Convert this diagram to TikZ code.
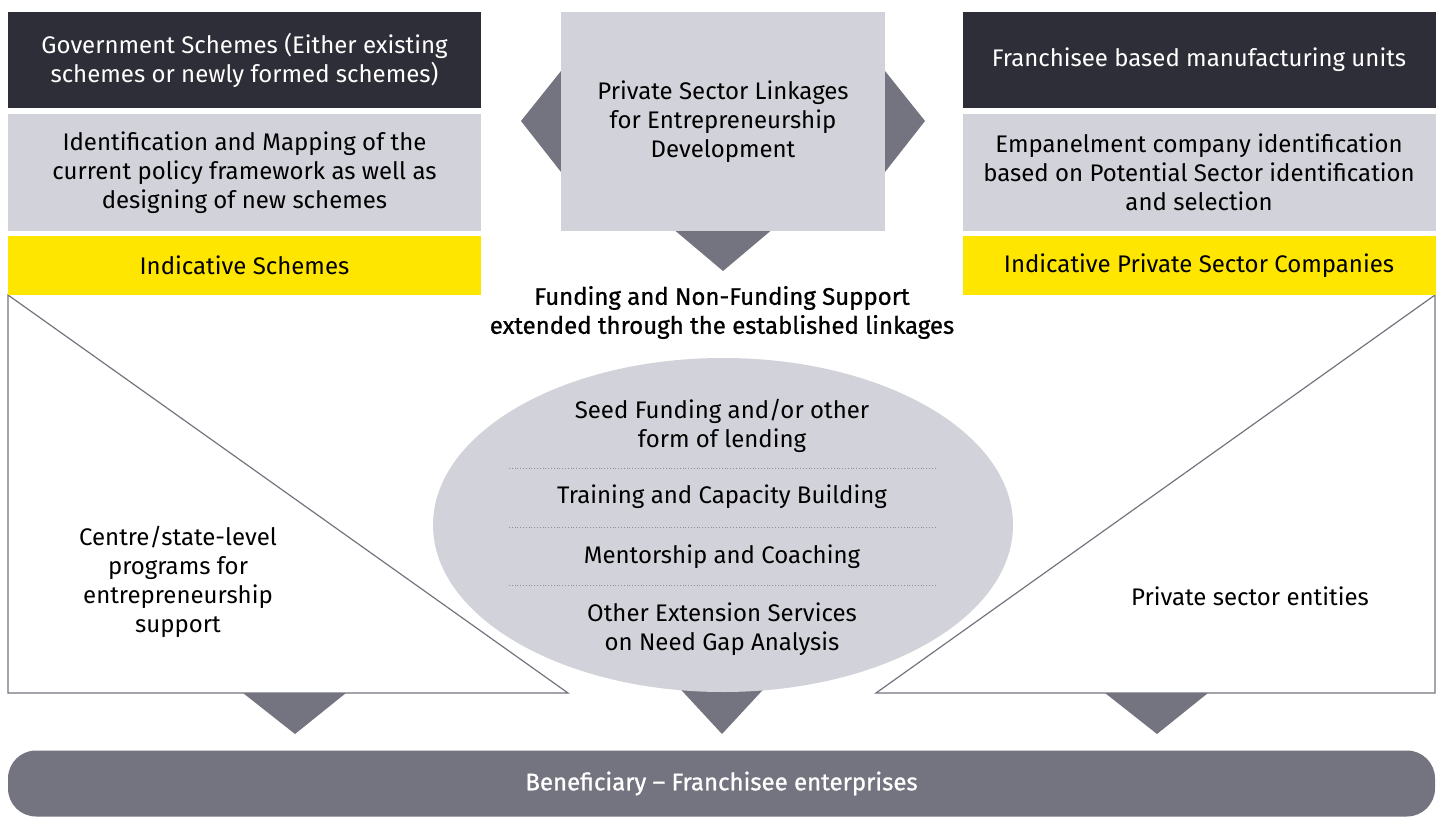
\documentclass[tikz,border=0pt]{standalone}
\usepackage{fontspec}
\setmainfont{Fira Sans}
\newfontfamily\medfont{Fira Sans}[FakeBold=0.9]
\usetikzlibrary{positioning,shapes.geometric}
\definecolor{eydark}{HTML}{2E2E38}
\definecolor{eylight}{HTML}{D2D2DA}
\definecolor{eyyellow}{HTML}{FFE600}
\definecolor{eygrey}{HTML}{747480}
\begin{document}
\begin{tikzpicture}[x=0.5pt,y=-0.5pt,
    txt/.style={align=center,inner sep=0pt,font=\fontsize{12}{14.5}\selectfont},
    panel/.style={txt,minimum width=236.5pt},
    darkpanel/.style={panel,fill=eydark,text=white,minimum height=48pt},
    lightpanel/.style={panel,fill=eylight,minimum height=58.5pt},
    yellowpanel/.style={panel,fill=eyyellow,minimum height=29.5pt},
    pointer/.style={fill=eygrey},
    wedge/.style={draw=eygrey,line width=0.6pt,fill=white},
    divider/.style={densely dotted,draw=eygrey!80,line width=0.4pt}]
  \useasboundingbox (0,0) rectangle (1441,818);
  \fill[white] (0,0) rectangle (1441,818);

  \draw[wedge] (8,295) -- (8,693) -- (568,693) -- cycle;
  \draw[wedge] (1435,295) -- (1435,693) -- (876,693) -- cycle;

  \node[darkpanel] (gov) at (244.5,60) {Government Schemes (Either existing\\schemes or newly formed schemes)};
  \node[lightpanel] (mapping) at (244.5,172.5) {Identification and Mapping of the\\current policy framework as well as\\designing of new schemes};
  \node[yellowpanel] (schemes) at (244.5,265.5) {Indicative Schemes};

  \node[darkpanel] (franchise) at (1199,60) {Franchisee based manufacturing units};
  \node[lightpanel] (empanel) at (1199,172.5) {Empanelment company identification\\based on Potential Sector identification\\and selection};
  \node[yellowpanel] (companies) at (1199,265.5) {Indicative Private Sector Companies};

  \fill[pointer] (561,71) -- (521,121) -- (561,172) -- cycle;
  \fill[pointer] (885,71) -- (925,121) -- (885,172) -- cycle;
  \fill[pointer] (672,228) -- (723,271) -- (774,228) -- cycle;
  \node[txt,fill=eylight,minimum width=162pt,minimum height=109.5pt] (linkage) at (723,121.5) {Private Sector Linkages\\for Entrepreneurship\\Development};

  \node[txt,font=\fontsize{12}{14.5}\medfont] (support) at (722,312.5) {Funding and Non-Funding Support\\extended through the established linkages};

  \fill[pointer] (243,693) -- (295,734) -- (346,693) -- cycle;
  \fill[pointer] (672,680) -- (722,734) -- (772,680) -- cycle;
  \fill[pointer] (1105,693) -- (1157,734) -- (1208,693) -- cycle;

  \node[ellipse,fill=eylight,minimum width=290pt,minimum height=167pt,inner sep=0pt] (services) at (723,525) {};
  \foreach \y in {468,527,585}
    \draw[divider] (509,\y) -- (936,\y);
  \node[txt] (seed) at (722,426) {Seed Funding and/or other\\form of lending};
  \node[txt] (training) at (722,497) {Training and Capacity Building};
  \node[txt] (mentor) at (722,557) {Mentorship and Coaching};
  \node[txt] (extension) at (722,629) {Other Extension Services\\on Need Gap Analysis};

  \node[txt] (programs) at (178,581.5) {Centre/state-level\\programs for\\entrepreneurship\\support};
  \node[txt] (entities) at (1250,596) {Private sector entities};

  \node[txt,fill=eygrey,text=white,rounded corners=14pt,minimum width=713.5pt,minimum height=33pt,font=\fontsize{12}{14.5}\medfont] (beneficiary) at (721.5,783.5) {Beneficiary – Franchisee enterprises};
\end{tikzpicture}
\end{document}
